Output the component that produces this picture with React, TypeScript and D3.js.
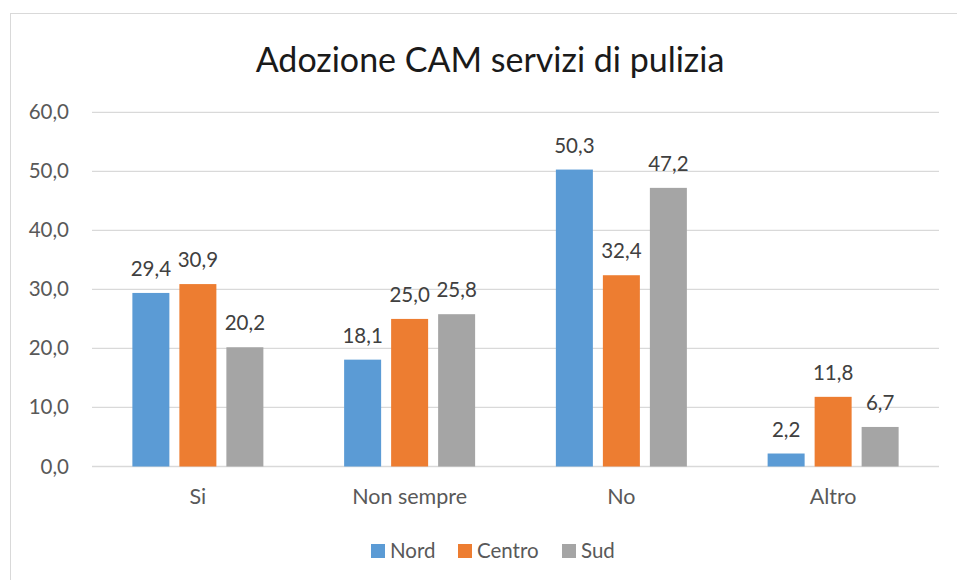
import React from "react";
import * as d3 from "d3";

const categories = ["Si", "Non sempre", "No", "Altro"];
const seriesNames = ["Nord", "Centro", "Sud"];
const nord = [29.4, 18.1, 50.3, 2.2];
const centro = [30.9, 25.0, 32.4, 11.8];
const sud = [20.2, 25.8, 47.2, 6.7];
const yTicks = [0, 10, 20, 30, 40, 50, 60];
const colors = ["#5B9BD5", "#ED7D31", "#A5A5A5"];
const title = "Adozione CAM servizi di pulizia";

const W = 957, H = 580;
const FONT = "Lato, 'Open Sans', sans-serif";

export default function App() {
  const series = [nord, centro, sud];
  const x0 = d3.scaleBand<string>().domain(categories).range([92, 939]).paddingInner(0).paddingOuter(0);
  const y = d3.scaleLinear().domain([0, 60]).range([466.5, 112.3]);
  const barW = 37, gap = 10;
  const groupW = barW * 3 + gap * 2;
  const fmt = (v: number) => v.toFixed(1).replace(".", ",");
  const legendX = [371, 458, 562];

  return (
    <svg width={W} height={H} style={{ position: "absolute", left: 0, top: 0, background: "#fff" }}>
      <rect x={10.5} y={13.5} width={W + 20} height={H + 20} fill="#fff" stroke="#D9D9D9" strokeWidth={1} />
      <text x={490} y={72} textAnchor="middle" fontFamily={FONT} fontSize={34} fill="#1a1a1a">{title}</text>
      {yTicks.map((t) => (
        <g key={t}>
          <line x1={92} x2={939} y1={y(t)} y2={y(t)} stroke="#D9D9D9" strokeWidth={1.3} />
          <text x={69} y={y(t) + 7} textAnchor="end" fontFamily={FONT} fontSize={20.5} fill="#595959">{fmt(t)}</text>
        </g>
      ))}
      {categories.map((c, ci) => {
        const cx = (x0(c) as number) + x0.bandwidth() / 2;
        const start = cx - groupW / 2;
        return (
          <g key={c}>
            {series.map((s, si) => {
              const bx = start + si * (barW + gap);
              return (
                <g key={si}>
                  <rect x={bx} y={y(s[ci])} width={barW} height={y(0) - y(s[ci])} fill={colors[si]} />
                  <text x={bx + barW / 2} y={y(s[ci]) - 17} textAnchor="middle" fontFamily={FONT} fontSize={20.5} fill="#404040">{fmt(s[ci])}</text>
                </g>
              );
            })}
            <text x={cx} y={504} textAnchor="middle" fontFamily={FONT} fontSize={21.5} fill="#595959">{c}</text>
          </g>
        );
      })}
      {seriesNames.map((n, i) => (
        <g key={n}>
          <rect x={legendX[i]} y={544} width={14} height={14} fill={colors[i]} />
          <text x={legendX[i] + 19} y={558} fontFamily={FONT} fontSize={20.5} fill="#595959">{n}</text>
        </g>
      ))}
    </svg>
  );
}
